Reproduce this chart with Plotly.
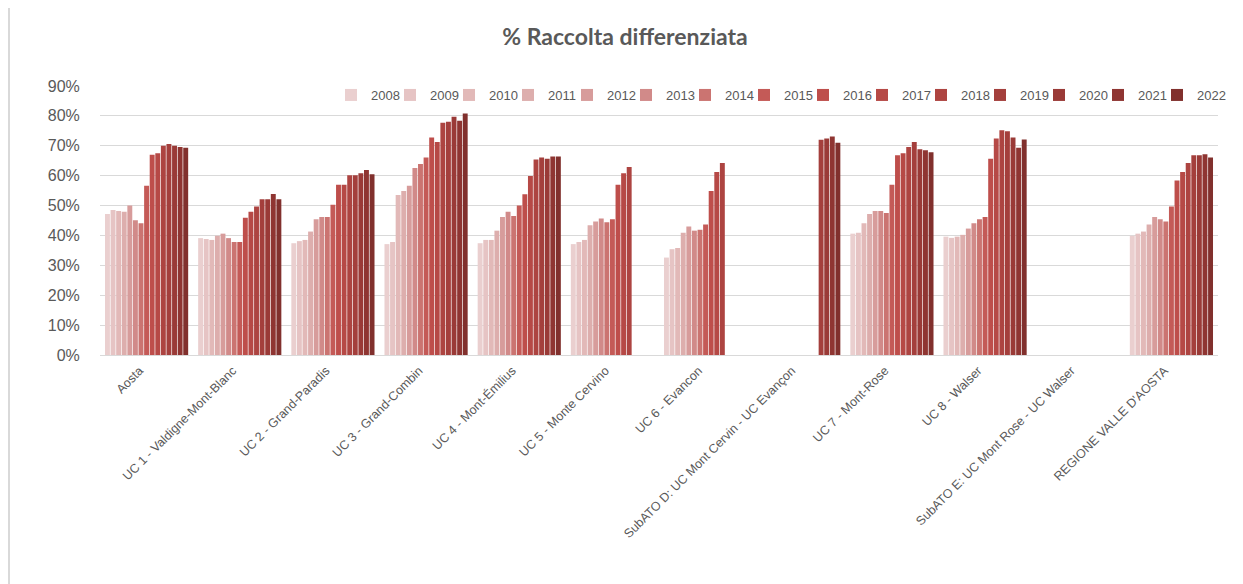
import plotly.graph_objects as go

years = [str(y) for y in range(2008, 2023)]

categories = [
    "Aosta",
    "UC 1 - Valdigne-Mont-Blanc",
    "UC 2 - Grand-Paradis",
    "UC 3 - Grand-Combin",
    "UC 4 - Mont-Émilius",
    "UC 5 - Monte Cervino",
    "UC 6 - Evancon",
    "SubATO D: UC Mont Cervin - UC Evançon",
    "UC 7 - Mont-Rose",
    "UC 8 - Walser",
    "SubATO E: UC Mont Rose - UC Walser",
    "REGIONE VALLE D'AOSTA",
]

# % raccolta differenziata, 2008..2022 (None = no data)
aosta = [47.2, 48.5, 48.2, 47.9, 50.0, 45.1, 44.1, 56.6, 67.0, 67.5, 70.0, 70.6, 70.0, 69.6, 69.3]
uc1 = [39.1, 38.8, 38.5, 39.9, 40.6, 39.1, 37.8, 37.8, 45.9, 47.9, 49.7, 52.1, 52.1, 53.9, 52.1]
uc2 = [37.4, 38.1, 38.5, 41.3, 45.4, 46.2, 46.2, 50.3, 57.0, 57.0, 60.1, 60.1, 60.8, 61.9, 60.5]
uc3 = [37.1, 37.8, 53.5, 54.9, 56.6, 62.6, 63.9, 66.1, 72.8, 71.3, 77.7, 78.0, 79.7, 78.4, 80.8]
uc4 = [37.4, 38.5, 38.5, 41.6, 46.2, 47.9, 46.5, 50.0, 53.8, 59.9, 65.4, 66.1, 65.7, 66.4, 66.4]
uc5 = [37.1, 37.8, 38.5, 43.4, 44.7, 45.7, 44.4, 45.4, 57.0, 60.8, 62.9, None, None, None, None]
uc6 = [32.6, 35.4, 35.8, 40.9, 43.0, 41.6, 41.9, 43.7, 54.9, 61.2, 64.2, None, None, None, None]
subato_d = [None, None, None, None, None, None, None, None, None, None, None, 72.0, 72.4, 73.1, 71.0]
uc7 = [40.6, 40.9, 44.1, 47.2, 48.2, 48.2, 47.5, 57.0, 66.8, 67.5, 69.6, 71.3, 68.8, 68.5, 67.8]
uc8 = [39.6, 39.2, 39.6, 40.2, 42.3, 44.1, 45.4, 46.2, 65.7, 72.4, 75.2, 74.9, 72.8, 69.3, 72.1]
subato_e = [None] * 15
regione = [39.9, 40.6, 41.3, 43.7, 46.2, 45.4, 44.7, 49.7, 58.4, 61.2, 64.2, 66.8, 66.8, 67.2, 66.1]

rows = [aosta, uc1, uc2, uc3, uc4, uc5, uc6, subato_d, uc7, uc8, subato_e, regione]

colors = ["#EACFCF", "#E6C4C4", "#E2B9B8", "#DDAEAD", "#D79C9B", "#D18A89", "#CB7471",
          "#C45A57", "#BE4E4B", "#B64946", "#AD4441", "#A43F3C", "#9A3A37", "#8F3532", "#81302D"]

GRAY = "#595959"
SANS = "Liberation Sans, Arial, sans-serif"

fig = go.Figure()
for i, yr in enumerate(years):
    last = i == len(years) - 1
    fig.add_trace(go.Bar(
        name=yr,
        x=categories,
        y=[r[i] for r in rows],
        marker=dict(color=colors[i], line=dict(width=0)),
        legendwidth=None if last else 14,
    ))

# the page has an 8px body margin, so the figure is sized to the visible area
W, H = 1235, 576
ML, MR, MT, MB = 92, 25, 78, 229
pw, ph = W - ML - MR, H - MT - MB

fig.update_layout(
    width=W, height=H,
    margin=dict(l=ML, r=MR, t=MT, b=MB, autoexpand=False),
    paper_bgcolor="white", plot_bgcolor="white",
    barmode="group", bargap=0.1, bargroupgap=0.12,
    title=dict(text="<b>% Raccolta differenziata</b>", xref="container", x=617 / W, xanchor="center",
               yref="container", y=1 - 29 / H, yanchor="middle",
               font=dict(family="Lato, Liberation Sans, sans-serif", size=23, color=GRAY)),
    font=dict(family=SANS, color=GRAY),
    legend=dict(orientation="h", x=(323 - ML) / pw, xanchor="left", y=1 + 6 / ph, yanchor="top",
                font=dict(family=SANS, size=13, color=GRAY),
                bgcolor="rgba(0,0,0,0)", itemclick=False, traceorder="normal"),
    showlegend=True,
)
fig.update_yaxes(range=[0, 90], dtick=10, ticksuffix="%", showgrid=True, gridcolor="#D9D9D9", gridwidth=1,
                 zeroline=True, zerolinecolor="#D9D9D9", zerolinewidth=1, showline=False,
                 ticks="outside", ticklen=16, tickcolor="rgba(0,0,0,0)", automargin=False,
                 tickfont=dict(family=SANS, size=16, color=GRAY))
fig.update_xaxes(tickangle=-45, showline=False, showgrid=False, ticks="", ticklabelshift=-7,
                 ticklabelstandoff=5, automargin=False,
                 tickfont=dict(family=SANS, size=12.5, color=GRAY))

# left frame line of the chart area
fig.add_shape(type="line", xref="paper", yref="paper",
              x0=(1 - ML) / pw, x1=(1 - ML) / pw, y0=-MB / ph - 0.01, y1=(MT + ph) / ph + 0.01,
              line=dict(color="#D9D9D9", width=2))

fig.write_html("out.html")
